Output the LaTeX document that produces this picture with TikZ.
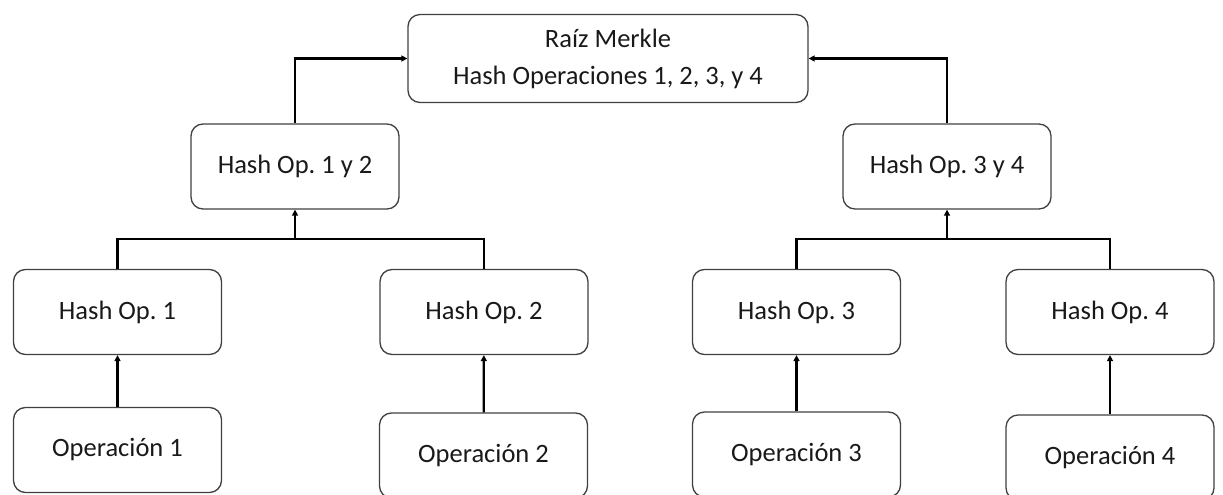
\documentclass[tikz,border=0pt]{standalone}
\usepackage{fontspec}
\setmainfont{Carlito}
\usetikzlibrary{arrows.meta}
\frenchspacing

\begin{document}
\begin{tikzpicture}[x=1pt,y=-1pt,>={Triangle[length=6pt,width=6pt]}]
        \tikzstyle{hashbox}=[draw=black!75,line width=1.3pt,rounded corners=12pt,minimum width=208pt,minimum height=85pt,align=center,text=black!90,font=\fontsize{26.5}{37}\selectfont]
        \tikzstyle{edge}=[draw,line width=2.2pt]
        \useasboundingbox (0,0) rectangle (1223,495);
       \begin{scope}
         % raiz y nivel intermedio
         \node [hashbox,minimum width=400pt,minimum height=88pt] (root) at (608,58.5) {Raíz Merkle\\Hash Operaciones 1, 2, 3, y 4};
         \node [hashbox] (h12) at (295,166.5) {Hash Op. 1 y 2};
         \node [hashbox] (h34) at (947,166.5) {Hash Op. 3 y 4};
         % hojas
         \node [hashbox] (h1) at (117.5,312) {Hash Op. 1};
         \node [hashbox] (h2) at (484,312) {Hash Op. 2};
         \node [hashbox] (h3) at (796.5,312) {Hash Op. 3};
         \node [hashbox] (h4) at (1110,312) {Hash Op. 4};
         \node [hashbox] (op1) at (117.5,450) {Operación 1};
         \node [hashbox] (op2) at (483.5,455.5) {Operación 2};
         \node [hashbox] (op3) at (796.5,454.5) {Operación 3};
         \node [hashbox] (op4) at (1110,457.5) {Operación 4};
         \coordinate (j12) at (295,239);
         \coordinate (j34) at (947,239);
         \path[edge,->] (op1) -- (h1);
         \path[edge,->] (op2) -- (h2);
         \path[edge,->] (op3) -- (h3);
         \path[edge,->] (op4) -- (h4);
         \path[edge] (h1.north) |- (j12) -| (h2.north);
         \path[edge] (h3.north) |- (j34) -| (h4.north);
         \path[edge,->] (j12) -- (h12.south);
         \path[edge,->] (j34) -- (h34.south);
         \path[edge,->] (h12.north) |- (root.west);
         \path[edge,->] (h34.north) |- (root.east);
        \end{scope}
      \end{tikzpicture}
\end{document}
